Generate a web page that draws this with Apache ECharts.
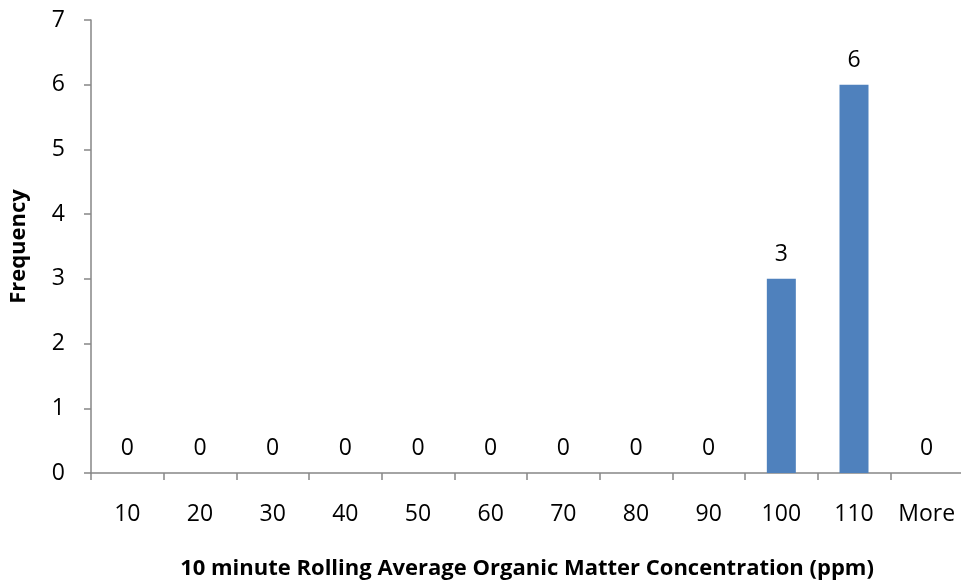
<!DOCTYPE html>
<html>
<head>
<meta charset="utf-8">
<script src="https://cdn.jsdelivr.net/npm/echarts@6/dist/echarts.min.js"></script>
<style>html,body{margin:0;padding:0;background:#fff}#c{width:961px;height:582px}</style>
</head>
<body>
<div id="c"></div>
<script>
const categories = ['10','20','30','40','50','60','70','80','90','100','110','More'];
const frequency = [0,0,0,0,0,0,0,0,0,3,6,0];
const yTicks = {min:0, max:7, interval:1};
const xTitle = '10 minute Rolling Average Organic Matter Concentration (ppm)';
const yTitle = 'Frequency';

const FONT = 'Open Sans, Liberation Sans, sans-serif';
const chart = echarts.init(document.getElementById('c'), null, {renderer:'canvas'});
chart.setOption({
  animation:false,
  backgroundColor:'#fff',
  grid:{left:91, top:20, width:872, bottom:109, containLabel:false, outerBoundsMode:'none'},
  xAxis:{
    type:'category', data:categories,
    axisLine:{lineStyle:{color:'#868686', width:1.5}},
    axisTick:{show:true, length:7, interval:0, lineStyle:{color:'#868686', width:1.5}, alignWithLabel:false},
    axisLabel:{color:'#000', fontSize:23, fontFamily:FONT, margin:30, interval:0, hideOverlap:false},
    name:xTitle, nameLocation:'middle', nameGap:85,
    nameTextStyle:{color:'#000', fontSize:22, fontWeight:'bold', fontFamily:FONT},
    splitLine:{show:false}
  },
  yAxis:{
    type:'value', min:yTicks.min, max:yTicks.max, interval:yTicks.interval,
    axisLine:{show:true, lineStyle:{color:'#868686', width:1.5}},
    axisTick:{show:true, length:7, lineStyle:{color:'#868686', width:1.5}},
    axisLabel:{color:'#000', fontSize:23, fontFamily:FONT, margin:26},
    splitLine:{show:false},
    name:yTitle, nameLocation:'middle', nameGap:61, nameRotate:90,
    nameTextStyle:{color:'#000', fontSize:22, fontWeight:'bold', fontFamily:FONT}
  },
  series:[{
    type:'bar', data:frequency, barWidth:29,
    itemStyle:{color:'#4F81BD'},
    label:{show:true, position:'top', distance:13, color:'#000', fontSize:23, fontFamily:FONT}
  }]
});
</script>
</body>
</html>
